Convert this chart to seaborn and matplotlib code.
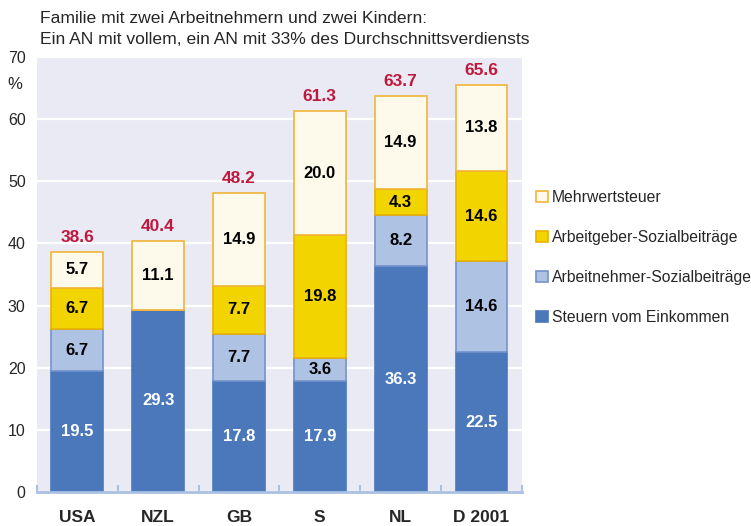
import numpy as np
import pandas as pd
import matplotlib
matplotlib.use("Agg")
import matplotlib.pyplot as plt
from matplotlib.patches import Patch
import seaborn as sns

# data
countries = ["USA", "NZL", "GB", "S", "NL", "D 2001"]
steuern = [19.5, 29.3, 17.8, 17.9, 36.3, 22.5]
an_sozial = [6.7, 0.0, 7.7, 3.6, 8.2, 14.6]
ag_sozial = [6.7, 0.0, 7.7, 19.8, 4.3, 14.6]
mwst = [5.7, 11.1, 14.9, 20.0, 14.9, 13.8]
totals = [38.6, 40.4, 48.2, 61.3, 63.7, 65.6]

layers = ["Steuern vom Einkommen", "Arbeitnehmer-Sozialbeiträge",
          "Arbeitgeber-Sozialbeiträge", "Mehrwertsteuer"]
values = [steuern, an_sozial, ag_sozial, mwst]
faces = ["#4A78BA", "#AEC3E4", "#F2D400", "#FDFAEC"]
edges = ["#4A78BA", "#7393CC", "#EDB000", "#F1B539"]
txtcol = ["white", "black", "black", "black"]

sns.set_theme(style="darkgrid", rc={"axes.facecolor": "#EAEAF5",
                                     "grid.color": "white",
                                     "grid.linewidth": 1.6})
plt.rcParams["font.family"] = ["Liberation Sans", "DejaVu Sans"]

fig = plt.figure(figsize=(7.51, 5.26), dpi=100)
ax = fig.add_axes([0.049, 0.0646, 0.646, 0.827])

bottom = np.zeros(len(countries))
for name, vals, fc, ec, tc in zip(layers, values, faces, edges, txtcol):
    df = pd.DataFrame({"land": countries, "wert": vals})
    sns.barplot(data=df, x="land", y="wert", bottom=bottom, color=fc,
                edgecolor=ec, linewidth=1.2, width=0.64, saturation=1,
                ax=ax, zorder=3)
    for i, v in enumerate(vals):
        if v > 0:
            ax.text(i, bottom[i] + v / 2, f"{v:.1f}", ha="center", va="center",
                    color=tc, fontsize=12, fontweight="bold", zorder=4)
    bottom = bottom + np.array(vals)

for i, t in enumerate(totals):
    ax.text(i, bottom[i] + 1.1, f"{t:.1f}", ha="center", va="bottom",
            color="#C0183C", fontsize=12.5, fontweight="bold", zorder=4)

ax.set_ylim(0, 70)
ax.set_xlim(-0.5, 5.5)
ax.set_yticks(range(0, 71, 10))
ax.grid(axis="x", visible=False)
ax.set_xlabel("")
ax.set_ylabel("")
ax.tick_params(axis="y", labelsize=11.5, pad=8, length=0)
ax.tick_params(axis="x", which="major", labelsize=12.5, length=0, pad=13)
for lab in ax.get_xticklabels():
    lab.set_fontweight("bold")
ax.set_xticks(np.arange(-0.5, 6, 1), minor=True)
ax.tick_params(axis="x", which="minor", direction="in", length=5,
               width=1.5, color="#A9C0E2", bottom=True)
for s in ["top", "right", "left"]:
    ax.spines[s].set_visible(False)
ax.spines["bottom"].set_visible(True)
ax.spines["bottom"].set_color("#A9C0E2")
ax.spines["bottom"].set_linewidth(2)
ax.spines["bottom"].set_zorder(5)

ax.text(-0.045, 65.6, "%", transform=ax.get_yaxis_transform(), ha="center",
        va="center", fontsize=12)

fig.text(0.053, 0.979, "Familie mit zwei Arbeitnehmern und zwei Kindern:\n"
         "Ein AN mit vollem, ein AN mit 33% des Durchschnittsverdiensts",
         ha="left", va="top", fontsize=12.6, linespacing=1.5)

handles = [Patch(facecolor=fc, edgecolor=ec, linewidth=1.2)
           for fc, ec in zip(faces, edges)][::-1]
fig.legend(handles, layers[::-1], loc="upper left",
           bbox_to_anchor=(0.705, 0.651), frameon=False, fontsize=11.3,
           handlelength=0.75, handleheight=0.75, handletextpad=0.3,
           labelspacing=1.6, borderaxespad=0)

fig.savefig("out.png", dpi=100)
